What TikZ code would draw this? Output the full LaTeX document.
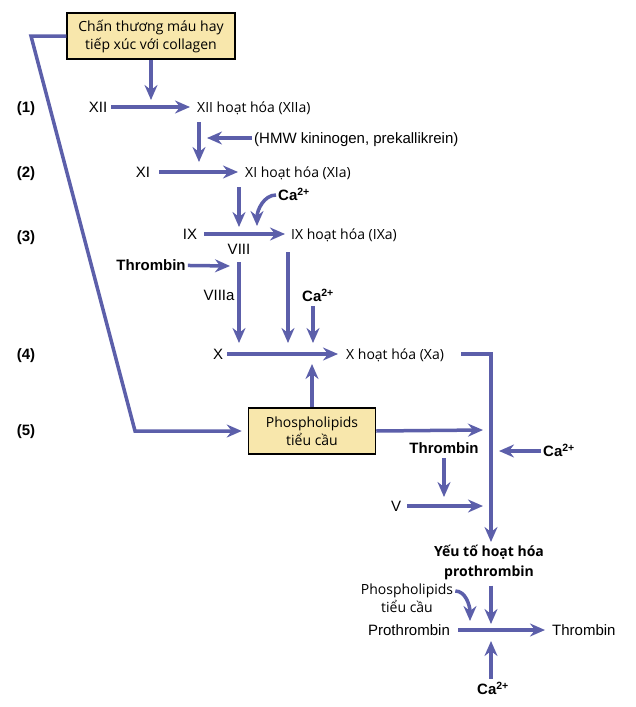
\documentclass[tikz,border=0pt]{standalone}
\usepackage{fontspec}
\setmainfont{Liberation Sans}
\newfontfamily\vnfont{Open Sans}
\usetikzlibrary{calc,arrows.meta,positioning}
\definecolor{flowblue}{RGB}{92,95,170}
\definecolor{boxyellow}{RGB}{248,231,172}
\tikzset{
    every node/.style={inner sep=2pt},
    fact node/.style={font=\fontsize{15}{18}\selectfont,text height=13.5pt,text depth=3pt},
    bold node/.style={fact node,font=\bfseries\fontsize{15}{18}\selectfont},
    viet node/.style={font=\vnfont\fontsize{14}{18}\selectfont,text height=13.5pt,text depth=3pt},
    block node/.style={font=\vnfont\fontsize{14}{18}\selectfont,align=center},
    box node/.style={block node,draw=black,line width=1.5pt,fill=boxyellow,minimum height=46pt},
    flow arrow/.style={->,line width=3.5pt,draw=flowblue}
}

\begin{document}
\begin{tikzpicture}[x=1pt,y=-1pt,>={Stealth[length=15pt,width=13pt,inset=5pt]}]
    \useasboundingbox (0,0) rectangle (635,707);

    % step numbers
    \foreach \n/\y in {1/107,2/172,3/236,4/354,5/430}
        \node[bold node] (r\n) at (26,\y) {(\n)};

    \node[box node,minimum width=168pt] (injury) at (151,36) {Chấn thương máu hay\\tiếp xúc với collagen};
    \node[fact node] (f12) at (98,107) {XII};
    \node[viet node,anchor=west] (f12a) at (195,107) {XII hoạt hóa (XIIa)};
    \node[fact node,anchor=west] (hmw) at (252,138) {(HMW kininogen, prekallikrein)};
    \node[fact node] (f11) at (143,172) {XI};
    \node[viet node,anchor=west] (f11a) at (243,172) {XI hoạt hóa (XIa)};
    \node[bold node,anchor=west] (ca1) at (276,195) {Ca\textsuperscript{2+}};
    \node[fact node] (f9) at (190,234) {IX};
    \node[viet node,anchor=west] (f9a) at (289,234) {IX hoạt hóa (IXa)};
    \node[fact node] (f8) at (239,249) {VIII};
    \node[bold node] (thr1) at (151,265) {Thrombin};
    \node[fact node] (f8a) at (219,295) {VIIIa};
    \node[bold node,anchor=west] (ca2) at (300,296) {Ca\textsuperscript{2+}};
    \node[fact node] (f10) at (218,354) {X};
    \node[viet node,anchor=west] (f10a) at (344,354) {X hoạt hóa (Xa)};
    \node[box node,minimum width=127pt] (plt) at (312,431) {Phospholipids\\tiểu cầu};
    \node[bold node] (thr2) at (444,448) {Thrombin};
    \node[bold node,anchor=west] (ca3) at (541,451) {Ca\textsuperscript{2+}};
    \node[fact node] (f5) at (396,506) {V};
    \node[block node,font=\vnfont\bfseries\fontsize{14}{20}\selectfont] (act) at (489,562) {Yếu tố hoạt hóa\\prothrombin};
    \node[block node] (plt2) at (407,598) {Phospholipids\\tiểu cầu};
    \node[fact node] (proth) at (409,630) {Prothrombin};
    \node[fact node,anchor=west] (thr3) at (550,630) {Thrombin};
    \node[bold node] (ca4) at (493,689) {Ca\textsuperscript{2+}};

    % arrow ends and corners
    \coordinate (k1) at (31,36);
    \coordinate (k2) at (135,431);
    \coordinate (k3) at (491,354);
    \coordinate (j1) at (151,100);
    \coordinate (j2) at (207,138);
    \coordinate (j3) at (199,162);
    \coordinate (j4) at (239,227);
    \coordinate (j5) at (257,226);
    \coordinate (j6) at (230,266);
    \coordinate (j7) at (239,343);
    \coordinate (j8) at (288,343);
    \coordinate (j9) at (313,343);
    \coordinate (j10) at (312,364);
    \coordinate (j11) at (491,542);
    \coordinate (j12) at (483,430);
    \coordinate (j13) at (444,497);
    \coordinate (j14) at (499,451);
    \coordinate (j15) at (483,506);
    \coordinate (j16) at (491,624);
    \coordinate (j17) at (470,621);
    \coordinate (j18) at (491,641);

    \draw[flow arrow,shorten >=6pt] (injury.west) -- (k1) -- (k2) -- (plt.west);
    \draw[flow arrow] (injury.south) -- (j1);
    \draw[flow arrow,shorten <=2pt,shorten >=5pt] (f12) -- (f12a);
    \draw[flow arrow,shorten <=5pt] (f12a.south -| j3) -- (j3);
    \draw[flow arrow] (hmw.west) -- (j2);
    \draw[flow arrow,shorten <=7pt,shorten >=5pt] (f11) -- (f11a);
    \draw[flow arrow,shorten <=5pt] (f11a.south -| j4) -- (j4);
    \draw[flow arrow] (ca1.west) .. controls +(-12,0) and +(0,-16) .. (j5);
    \draw[flow arrow,shorten <=5pt,shorten >=4pt] (f9) -- (f9a);
    \draw[flow arrow] (thr1) -- (j6);
    \draw[flow arrow,shorten <=3pt] (f8.south) -- (j7);
    \draw[flow arrow,shorten <=8pt] (f9a.south -| j8) -- (j8);
    \draw[flow arrow] (ca2.south -| j9) -- (j9);
    \draw[flow arrow,shorten <=2pt,shorten >=6pt] (f10) -- (f10a);
    \draw[flow arrow] (plt.north -| j10) -- (j10);
    \draw[flow arrow,shorten <=15pt] (f10a.east) -- (k3) -- (j11);
    \draw[flow arrow] (plt.east) -- (j12);
    \draw[flow arrow] (thr2.south) -- (j13);
    \draw[flow arrow] (ca3.west) -- (j14);
    \draw[flow arrow,shorten <=4pt] (f5) -- (j15);
    \draw[flow arrow,shorten <=4pt] (act.south -| j16) -- (j16);
    \draw[flow arrow] ([yshift=7pt]plt2.east) .. controls +(10,0) and +(0,-16) .. (j17);
    \draw[flow arrow,shorten <=6pt,shorten >=5pt] (proth) -- (thr3);
    \draw[flow arrow] (ca4.north -| j18) -- (j18);
\end{tikzpicture}
\end{document}
